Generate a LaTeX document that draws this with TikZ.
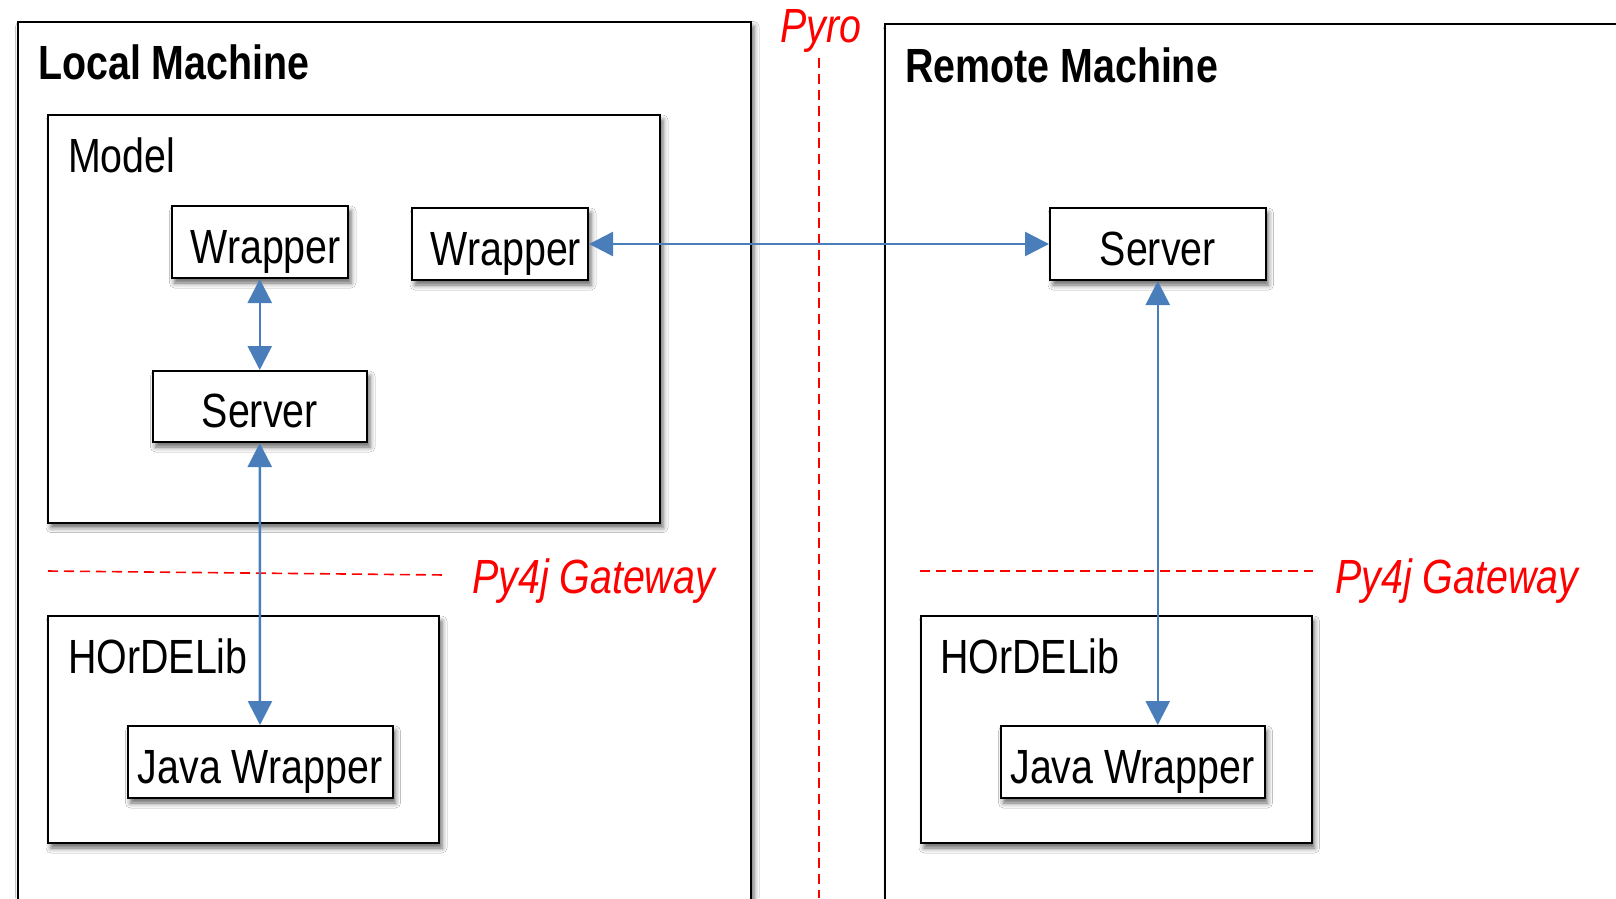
\documentclass[tikz,border=0pt]{standalone}
\usepackage{fontspec}
\setmainfont{Liberation Sans}[FakeStretch=0.82]
\usetikzlibrary{shadows.blur,arrows.meta}
\definecolor{arrowblue}{RGB}{74,126,187}
\definecolor{pyred}{RGB}{255,0,0}
\begin{document}
\begin{tikzpicture}[x=1pt,y=-1pt,
  shad/.style={blur shadow={shadow xshift=3pt,shadow yshift=-5pt,shadow blur radius=5pt,shadow opacity=60}},
  frame/.style={draw=black,line width=2pt,fill=white,shad,inner sep=0pt},
  box/.style={frame,font=\fontsize{48}{56}\selectfont,text height=46pt,text depth=4pt},
  lbl/.style={anchor=base west,inner sep=0pt,font=\fontsize{48}{56}\selectfont},
  title/.style={anchor=base west,inner sep=0pt,font=\fontsize{48}{56}\selectfont\bfseries},
  gate/.style={anchor=base west,inner sep=0pt,text=pyred,font=\fontsize{48}{56}\selectfont\itshape},
  link/.style={draw=arrowblue,line width=2.5pt,{Triangle[length=24pt,width=24pt]}-{Triangle[length=24pt,width=24pt]}},
  sep/.style={draw=pyred,line width=1.6pt,dash pattern=on 10pt off 6pt}]
\useasboundingbox (0,0) rectangle (1616,898);
\fill[white] (0,0) rectangle (1616,898);
\clip (0,0) rectangle (1616,898);

% machines
\node[frame,minimum width=733.5pt,minimum height=928.4pt] (local) at (384.25,485.8) {};
\node[frame,minimum width=815pt,minimum height=925.7pt] (remote) at (1292.5,487.15) {};
\node[title] (localt) at (38,79) {Local Machine};
\node[title] (remotet) at (905,82) {Remote Machine};

% Pyro separator
\node[gate] (pyro) at (780,42) {Pyro};
\coordinate (pyroA) at (819,58);
\coordinate (pyroB) at (819,898);
\draw[sep] (pyroA) -- (pyroB);

% local side
\node[frame,minimum width=612pt,minimum height=407.7pt] (model) at (354,318.85) {};
\node[lbl] (modelt) at (68,172) {Model};
\node[box,minimum width=176.5pt,minimum height=72pt] (wrap1) at (259.75,242) {\hspace*{12pt}Wrapper};
\node[box,minimum width=176pt,minimum height=72pt] (wrap2) at (500,244) {\hspace*{12pt}Wrapper};
\node[box,minimum width=214.5pt,minimum height=71pt] (serverL) at (259.75,406.5) {Server};

\coordinate (gL1) at (48,571);
\coordinate (gL2) at (446,575);
\draw[sep] (gL1) -- (gL2);
\node[gate] (gateL) at (472,593) {Py4j Gateway};

\node[frame,minimum width=391pt,minimum height=227pt] (horL) at (243.5,729.5) {};
\node[lbl] (horLt) at (68,673) {HOrDELib};
\node[box,minimum width=265pt,minimum height=72pt] (javaL) at (260,762) {Java Wrapper};

% remote side
\node[box,minimum width=215.5pt,minimum height=72pt] (serverR) at (1157.75,244) {Server};
\coordinate (gR1) at (920,571);
\coordinate (gR2) at (1313,571);
\draw[sep] (gR1) -- (gR2);
\node[gate] (gateR) at (1335,593) {Py4j Gateway};

\node[frame,minimum width=390.5pt,minimum height=227pt] (horR) at (1116.25,729.5) {};
\node[lbl] (horRt) at (940,673) {HOrDELib};
\node[box,minimum width=264pt,minimum height=72pt] (javaR) at (1132.5,762) {Java Wrapper};

% connectors
\draw[link] (wrap1.south) -- (serverL.north);
\draw[link] (serverL.south) -- (javaL.north);
\draw[link] (wrap2.east) -- (serverR.west);
\draw[link] (serverR.south) -- (serverR.south |- javaR.north);
\end{tikzpicture}
\end{document}
